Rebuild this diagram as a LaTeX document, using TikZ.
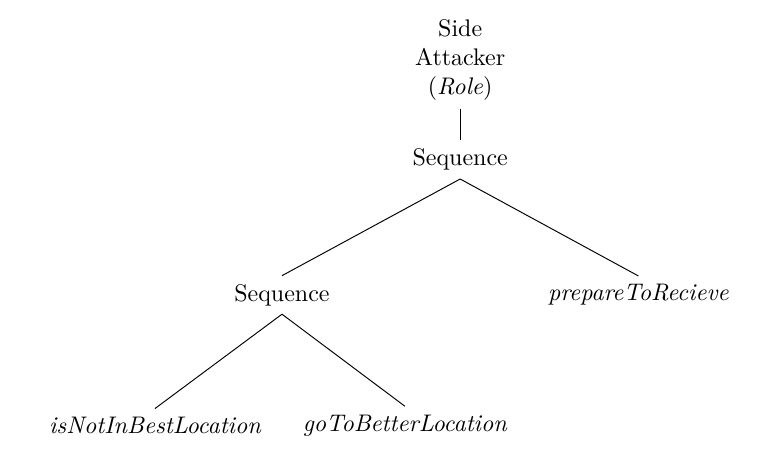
\documentclass[tikz,border=0pt]{standalone}
\usepackage{tikz}
\usetikzlibrary{positioning}
\tikzset{inner/.style={align=center}, leaf/.style={font=\itshape}}
\begin{document}
\begin{tikzpicture}
\useasboundingbox (0,0) rectangle (11.41,-6.65);
\node[inner] (role) at (6.74,-0.88) {Side\\Attacker\\(\textit{Role})};
\node[inner] (seqtop) at (6.74,-2.34) {Sequence};
\node[inner] (seqsub) at (4.13,-4.32) {Sequence};
\node[leaf] (prepare) at (9.35,-4.32) {prepareToRecieve};
\node[leaf] (notbest) at (2.27,-6.23) {isNotInBestLocation};
\node[leaf] (better) at (5.93,-6.23) {goToBetterLocation};
\draw (role) -- (seqtop);
\draw (seqtop.south) -- (seqsub.north);
\draw (seqtop.south) -- (prepare.north);
\draw (seqsub.south) -- (notbest.north);
\draw (seqsub.south) -- (better.north);
\end{tikzpicture}
\end{document}
